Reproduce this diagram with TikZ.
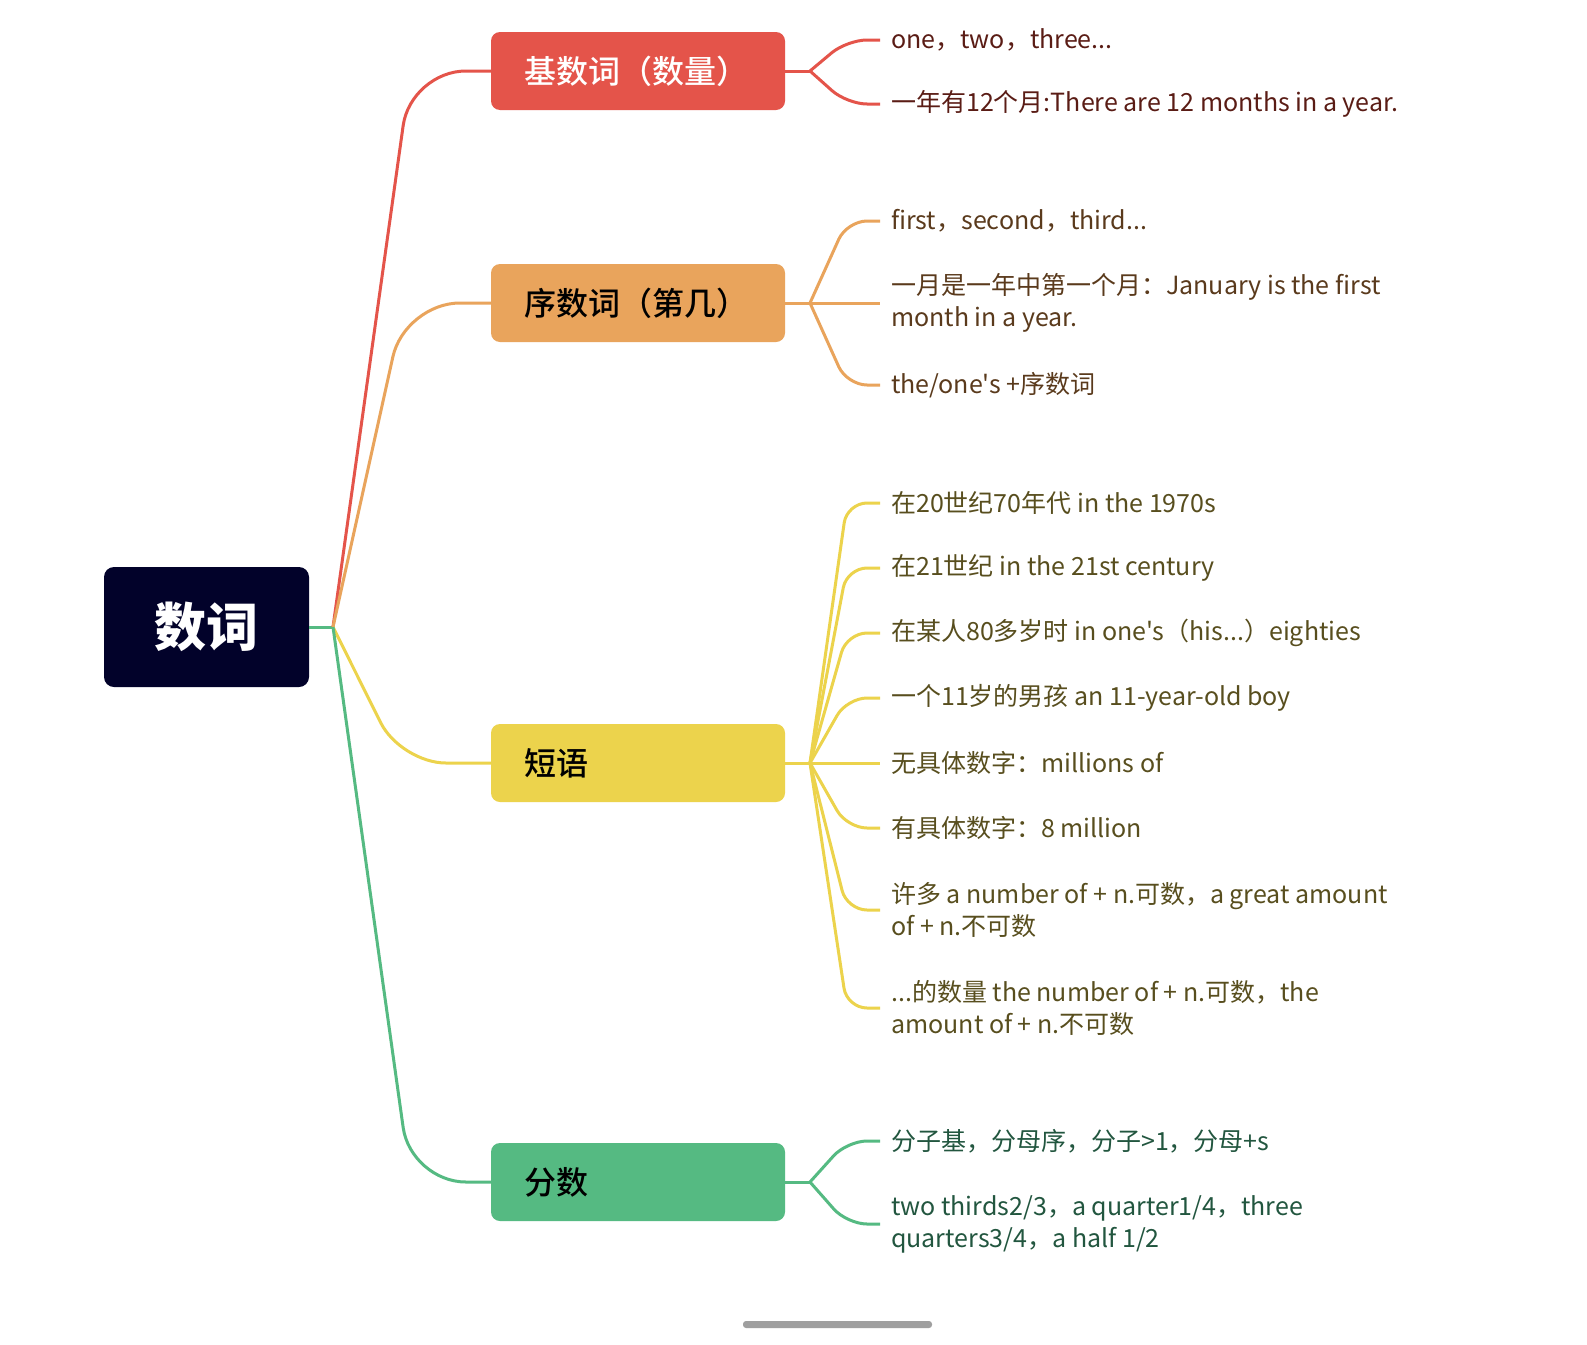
\documentclass[tikz,border=0pt]{standalone}
\usepackage{fontspec}
\setmainfont{Noto Sans CJK SC}[Ligatures=TeXOff]
\newfontfamily\medfont{Noto Sans CJK SC Medium}
\usetikzlibrary{calc}
\definecolor{cRed}{HTML}{E4544A}
\definecolor{cOrange}{HTML}{E9A45C}
\definecolor{cYellow}{HTML}{ECD34C}
\definecolor{cGreen}{HTML}{55BA82}
\definecolor{cRoot}{HTML}{02022A}
\definecolor{tRed}{HTML}{5A1C15}
\definecolor{tOrange}{HTML}{5A3A1C}
\definecolor{tYellow}{HTML}{584E1E}
\definecolor{tGreen}{HTML}{22563F}
\begin{document}
\begin{tikzpicture}[x=1pt,y=-1pt,
  rootbox/.style={fill=cRoot, text=white, rounded corners=10pt, minimum width=205pt, minimum height=120pt, inner sep=0pt, font=\fontsize{52}{58}\selectfont\bfseries},
  brbox/.style={rounded corners=9pt, minimum height=78pt, text width=228pt, inner xsep=33pt, inner ysep=0pt, align=left, font=\fontsize{32}{36}\selectfont\medfont},
  leaf/.style={anchor=west, inner sep=0pt, align=left, font=\fontsize{25}{32}\selectfont},
  ln/.style={line width=3pt},
  mainln/.style={ln, rounded corners=55pt},
  subln/.style={ln, rounded corners=20pt}
]
\useasboundingbox (0,0) rectangle (1587,1344);
\fill[white] (0,0) rectangle (1587,1344);

% root and branches
\node[rootbox] (root) at (206.5,627) {数词};
\coordinate (J) at (333,627);
\node[brbox, fill=cRed, text=white] (b1) at (638,71) {基数词（数量）};
\node[brbox, fill=cOrange, text=black] (b2) at (638,303) {序数词（第几）};
\node[brbox, fill=cYellow, text=black] (b3) at (638,763) {短语};
\node[brbox, fill=cGreen, text=black] (b4) at (638,1182) {分数};

\coordinate (k1) at (810,71);
\coordinate (k2) at (810,303);
\coordinate (k3) at (810,763);
\coordinate (k4) at (810,1182);

% leaves
\node[leaf, text=tRed] (l11) at (891,40) {one，two，three...};
\node[leaf, text=tRed] (l12) at (891,104) {一年有12个月:There are 12 months in a year.};

\node[leaf, text=tOrange] (l21) at (891,221) {first，second，third...};
\node[leaf, text=tOrange] (l22) at (891,303) {一月是一年中第一个月：January is the first\\month in a year.};
\node[leaf, text=tOrange] (l23) at (891,385) {the/one's +序数词};

\node[leaf, text=tYellow] (l31) at (891,503) {在20世纪70年代 in the 1970s};
\node[leaf, text=tYellow] (l32) at (891,568) {在21世纪 in the 21st century};
\node[leaf, text=tYellow] (l33) at (891,633) {在某人80多岁时 in one's（his...）eighties};
\node[leaf, text=tYellow] (l34) at (891,698) {一个11岁的男孩 an 11-year-old boy};
\node[leaf, text=tYellow] (l35) at (891,763) {无具体数字：millions of};
\node[leaf, text=tYellow] (l36) at (891,828) {有具体数字：8 million};
\node[leaf, text=tYellow] (l37) at (891,910) {许多 a number of + n.可数，a great amount\\of + n.不可数};
\node[leaf, text=tYellow] (l38) at (891,1008) {...的数量 the number of + n.可数，the\\amount of + n.不可数};

\node[leaf, text=tGreen] (l41) at (891,1141) {分子基，分母序，分子>1，分母+s};
\node[leaf, text=tGreen] (l42) at (891,1224) {two thirds2/3，a quarter1/4，three\\quarters3/4，a half 1/2};

% main connectors
\draw[ln, cGreen] (root.east) -- (J);
\draw[mainln, cRed] (J) -- ($(b1.west)+(-80,0)$) -- (b1.west);
\draw[mainln, cOrange] (J) -- ($(b2.west)+(-86,0)$) -- (b2.west);
\draw[mainln, cYellow, rounded corners=45pt] (J) -- ($(b3.west)+(-90,0)$) -- (b3.west);
\draw[mainln, cGreen] (J) -- ($(b4.west)+(-80,0)$) -- (b4.west);

% branch stubs
\draw[ln, cRed] (b1.east) -- (k1);
\draw[ln, cOrange] (b2.east) -- (k2);
\draw[ln, cYellow] (b3.east) -- (k3);
\draw[ln, cGreen] (b4.east) -- (k4);

% leaf connectors
\foreach \l in {l11,l12}
  \draw[subln, cRed] (k1) -- ($(\l.west)+(-44,0)$) -- ($(\l.west)+(-11,0)$);
\foreach \l in {l21,l22,l23}
  \draw[subln, cOrange] (k2) -- ($(\l.west)+(-44,0)$) -- ($(\l.west)+(-11,0)$);
\foreach \l in {l31,l32,l33,l34,l35,l36,l37,l38}
  \draw[subln, cYellow] (k3) -- ($(\l.west)+(-44,0)$) -- ($(\l.west)+(-11,0)$);
\foreach \l in {l41,l42}
  \draw[subln, cGreen] (k4) -- ($(\l.west)+(-44,0)$) -- ($(\l.west)+(-11,0)$);

% bottom indicator bar
\fill[gray!75, rounded corners=3pt] (743,1321) rectangle (932,1328);
\end{tikzpicture}
\end{document}
